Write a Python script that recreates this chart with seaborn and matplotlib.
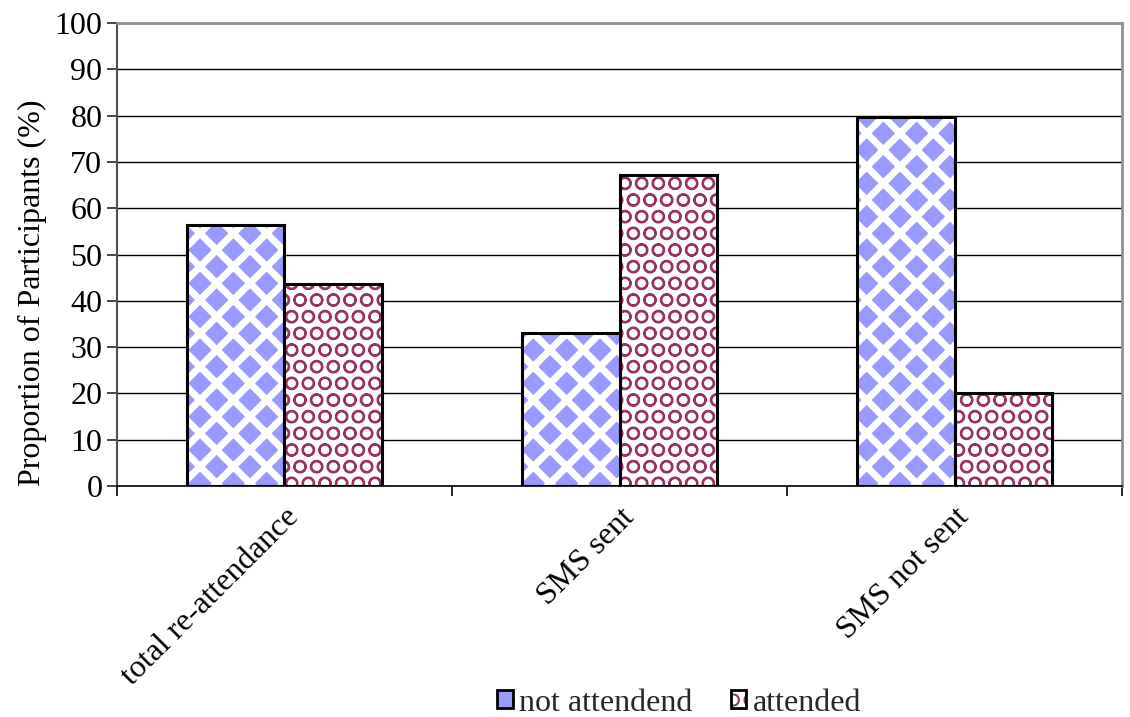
import matplotlib
matplotlib.use("Agg")
import matplotlib.pyplot as plt
from matplotlib.patches import Rectangle, Patch
import seaborn as sns
import pandas as pd

# values
groups = ["total re-attendance", "SMS sent", "SMS not sent"]
not_attended = [56.3, 33.0, 79.8]
attended = [43.7, 67.2, 20.2]
series_names = ["not attendend", "attended"]

df = pd.DataFrame({
    "group": groups * 2,
    "status": [series_names[0]] * 3 + [series_names[1]] * 3,
    "pct": not_attended + attended,
})

sns.set_style("white")
plt.rcParams["font.family"] = ["Liberation Serif", "DejaVu Serif"]

fig = plt.figure(figsize=(11.3, 7.17), dpi=100)
ax = fig.add_axes([0.1035, 0.322, 0.8895, 0.646])

ax.yaxis.grid(True, color="black", lw=1.0)
ax.set_axisbelow(True)

sns.barplot(data=df, x="group", y="pct", hue="status", order=groups,
            hue_order=series_names, width=0.58, palette=["#9999FF", "white"],
            ax=ax, legend=False, errorbar=None, saturation=1)

styles = {
    0: dict(fc="#9999FF", ec="white", hatch="x", hlw=5.0),
    1: dict(fc="white", ec="#993366", hatch="O", hlw=1.5),
}
bars = [p for p in ax.patches if isinstance(p, Rectangle)]
for i, p in enumerate(list(bars)):
    s = styles[i // 3]
    p.set_facecolor(s["fc"])
    p.set_edgecolor(s["ec"])
    p.set_hatch(s["hatch"])
    p.set_linewidth(0)
    if hasattr(p, "set_hatch_linewidth"):
        p.set_hatch_linewidth(s["hlw"])
    ax.add_patch(Rectangle(p.get_xy(), p.get_width(), p.get_height(),
                           fill=False, ec="black", lw=2.2, zorder=3))

fs = 23
ax.set_ylim(0, 100)
ax.set_yticks(range(0, 101, 10))
ax.set_xlim(-0.5, 2.5)
ax.set_xticks([0, 1, 2])
ax.set_xticks([-0.5, 0.5, 1.5, 2.5], minor=True)
ax.tick_params(axis="x", which="major", length=0, pad=12)
ax.tick_params(axis="x", which="minor", length=7, width=1.2, color="black",
               direction="out", bottom=True)
ax.tick_params(axis="y", length=7, width=1.2, direction="out", left=True,
               labelsize=fs, labelcolor="black")
ax.set_xticklabels(groups, rotation=45, ha="right", rotation_mode="anchor",
                   fontsize=fs, color="black")
ax.set_xlabel("")
ax.set_ylabel("Proportion of Participants (%)", fontsize=fs, color="black")
ax.yaxis.set_label_coords(-0.070, 0.417)

for side in ["top", "right"]:
    ax.spines[side].set_color("#909090")
    ax.spines[side].set_linewidth(2)
ax.spines["left"].set_color("#505050")
ax.spines["left"].set_linewidth(1.5)
ax.spines["bottom"].set_color("black")
ax.spines["bottom"].set_linewidth(1.2)

h_red = Patch(fc="white", ec="#993366", lw=0, hatch="O")
if hasattr(h_red, "set_hatch_linewidth"):
    h_red.set_hatch_linewidth(1.5)
handles = [
    Patch(fc="#9999FF", ec="black", lw=2, label=series_names[0]),
    (h_red, Patch(fill=False, ec="black", lw=2)),
]
fig.legend(handles=handles, labels=series_names, loc="lower center",
           bbox_to_anchor=(0.601, -0.041), ncol=2, frameon=False,
           fontsize=fs, handlelength=0.48, handleheight=0.48,
           handletextpad=0.2, columnspacing=1.2)

fig.savefig("out.png", dpi=100)
